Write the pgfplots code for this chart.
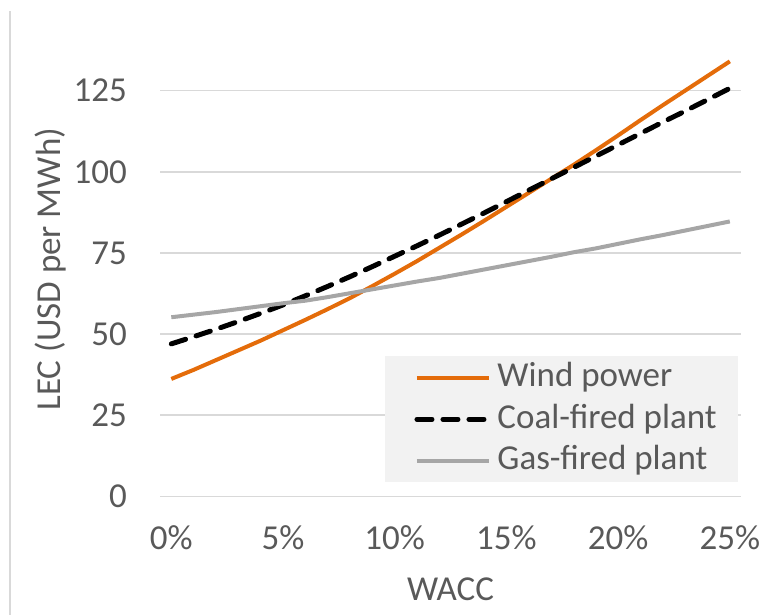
\documentclass[border=0pt]{standalone}
\usepackage{pgfplots}
\usepackage{pgfplotstable}
\pgfplotsset{compat=1.18}
\usepackage{fontspec}
\setmainfont{Carlito}
\definecolor{textgray}{HTML}{595959}
\definecolor{gridgray}{HTML}{D9D9D9}
\definecolor{windorange}{HTML}{E46C0A}
\definecolor{gasgray}{HTML}{A6A6A6}
\definecolor{legfill}{HTML}{F2F2F2}

\pgfplotstableread{
x wind coal gas
0 36.2 47.0 55.2
1 39.0 49.2 56.0
2 42.0 51.5 56.8
3 45.0 53.9 57.7
4 48.0 56.4 58.6
5 51.2 59.0 59.5
6 54.4 61.8 60.3
7 57.7 64.7 61.4
8 61.1 67.7 62.6
9 64.8 70.8 63.8
10 68.6 74.0 65.0
11 72.5 77.2 66.2
12 76.6 80.5 67.3
13 80.7 83.9 68.6
14 84.9 87.3 69.9
15 89.2 90.8 71.2
16 93.5 94.3 72.5
17 97.8 97.8 73.8
18 102.1 101.3 75.2
19 106.6 104.8 76.4
20 111.2 108.3 77.8
21 115.9 111.8 79.2
22 120.5 115.3 80.5
23 125.0 118.7 81.9
24 129.5 122.2 83.3
25 134.0 125.7 84.7
}\datatable

\begin{document}
\begin{tikzpicture}
\begin{axis}[
  scale only axis, width=290.5pt, height=227.35pt,
  xmin=-0.5, xmax=25.5, ymin=0, ymax=140,
  axis line style={draw=none},
  major tick length=0pt,
  xtick={0,5,10,15,20,25},
  xticklabels={0\%,5\%,10\%,15\%,20\%,25\%},
  ytick={0,25,50,75,100,125},
  ymajorgrids, grid style={color=gridgray, line width=0.9pt},
  tick label style={font=\fontsize{17.5}{21}\selectfont, text=textgray, /pgf/number format/assume math mode=true},
  yticklabel style={anchor=east, inner sep=0pt, xshift=-16.5pt},
  xticklabel style={anchor=base, inner sep=0pt, yshift=-26.7pt},
  xlabel={WACC}, ylabel={LEC (USD per MWh)},
  label style={font=\fontsize{17.5}{21}\selectfont, text=textgray},
  xlabel style={at={(axis description cs:0.5,-0.205)}, anchor=center},
  ylabel style={at={(axis description cs:-0.1893,0.5)}, anchor=center},
  clip=false,
  legend style={
    at={(axis cs:25.37,4.2)}, anchor=south east,
    draw=none, fill=legfill,
    inner xsep=10.5pt, inner ysep=2.8pt,
    row sep=4.8pt, column sep=3pt,
    font=\fontsize{17.5}{21}\selectfont, text=textgray,
    nodes={inner sep=0pt, text height=12.5pt, text depth=3.5pt},
  },
  legend cell align=left,
  legend image code/.code={\path (0pt,0pt); \draw[#1] (4pt,0pt) -- (40pt,0pt);},
]
\addplot[windorange, line width=2pt, line join=round] table[x=x, y=wind] {\datatable};
\addlegendentry{Wind power}
\addplot[black, line width=2.5pt, line cap=round, dash pattern=on 7.5pt off 5.5pt] table[x=x, y=coal] {\datatable};
\addlegendentry{Coal-fired plant}
\addplot[gasgray, line width=2pt, line join=round] table[x=x, y=gas] {\datatable};
\addlegendentry{Gas-fired plant}
\draw[gridgray, line width=1pt] (axis cs:-7.22,149.5) -- (axis cs:-7.22,-36.42);
\coordinate (bl) at (axis cs:-7.668,-36.42);
\coordinate (tr) at (axis cs:26.44,152.9);
\end{axis}
\pgfresetboundingbox
\useasboundingbox (bl) rectangle (tr);
\end{tikzpicture}
\end{document}
